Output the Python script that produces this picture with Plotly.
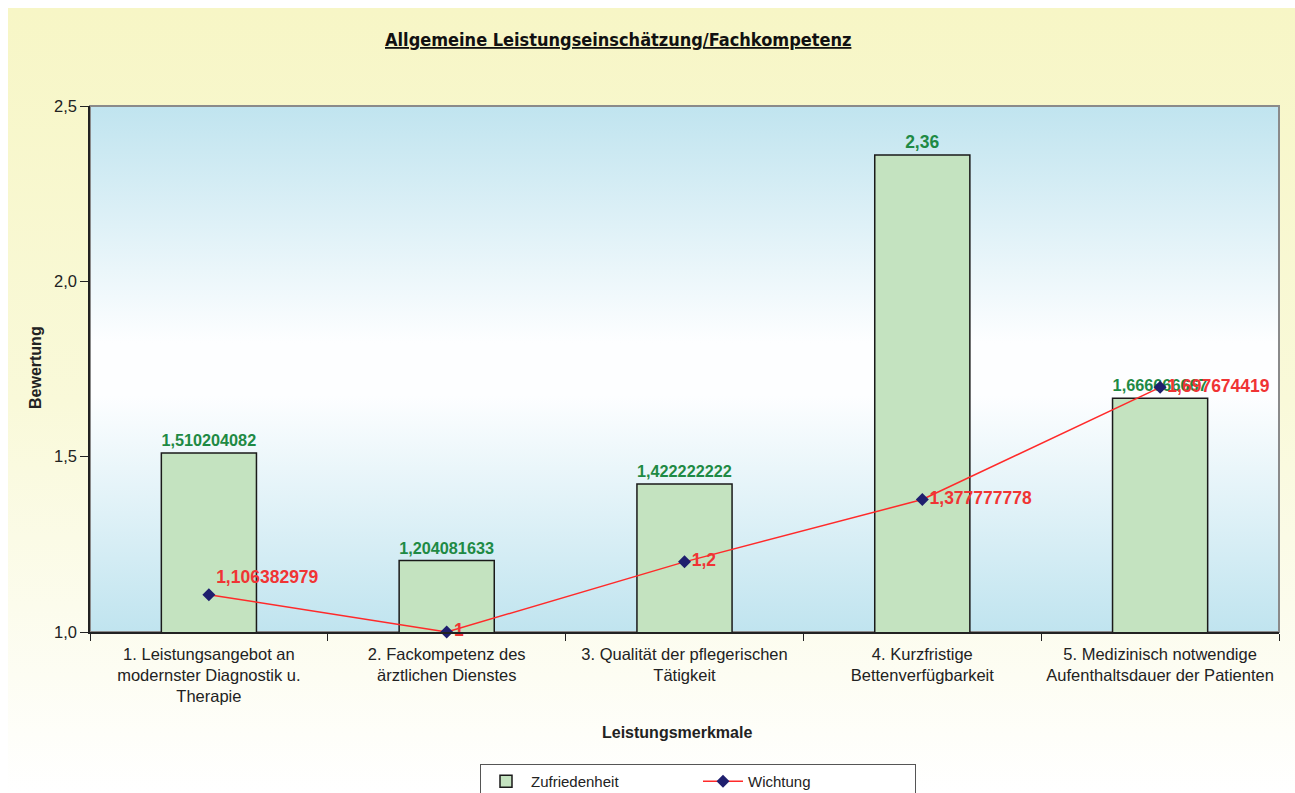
import base64
import plotly.graph_objects as go

categories = [
    "1. Leistungsangebot an<br>modernster Diagnostik u.<br>Therapie",
    "2. Fackompetenz des<br>ärztlichen Dienstes",
    "3. Qualität der pflegerischen<br>Tätigkeit",
    "4. Kurzfristige<br>Bettenverfügbarkeit",
    "5. Medizinisch notwendige<br>Aufenthaltsdauer der Patienten",
]
zufriedenheit = [1.510204082, 1.204081633, 1.422222222, 2.36, 1.666666667]
wichtung = [1.106382979, 1, 1.2, 1.377777778, 1.697674419]
y_ticks = [1.0, 1.5, 2.0, 2.5]


def de(v):
    return f"{v:.10g}".replace(".", ",")


def grad_uri(stops):
    st = "".join(f'<stop offset="{o}" stop-color="{c}"/>' for o, c in stops)
    svg = ('<svg xmlns="http://www.w3.org/2000/svg" width="100" height="100" '
           'viewBox="0 0 100 100" preserveAspectRatio="none"><defs>'
           '<linearGradient id="g" x1="0" y1="0" x2="0" y2="1">' + st +
           '</linearGradient></defs><rect width="100" height="100" fill="url(#g)"/></svg>')
    return "data:image/svg+xml;base64," + base64.b64encode(svg.encode()).decode()


W, H = 1295, 793
L, R, T, B = 90, 16, 106, 161
pw, ph = W - L - R, H - T - B


def px(x):
    return (x - L) / pw


def py(y):
    return (H - B - y) / ph


SANS = "Liberation Sans, Arial, sans-serif"

fig = go.Figure()
fig.add_trace(go.Bar(
    x=categories, y=zufriedenheit, name="Zufriedenheit",
    marker=dict(color="#c4e3c0", line=dict(color="#1a1a1a", width=1.5)),
    text=[de(v) for v in zufriedenheit], textposition="outside",
    textfont=dict(family=SANS, size=17.5, color="#1e8a44", weight="bold"),
    cliponaxis=False,
))
fig.add_trace(go.Scatter(
    x=categories, y=wichtung, name="Wichtung", mode="lines+markers+text",
    line=dict(color="#ff2a2a", width=1.5),
    marker=dict(symbol="diamond", size=10, color="#1f1f6e"),
    text=[de(v) for v in wichtung],
    textposition=["top right", "middle right", "middle right", "middle right", "middle right"],
    textfont=dict(family=SANS, size=17.5, color="#f03434", weight="bold"),
    cliponaxis=False,
))

fig.update_layout(
    width=W, height=H,
    margin=dict(l=L, r=R, t=T, b=B, autoexpand=False),
    paper_bgcolor="white", plot_bgcolor="rgba(0,0,0,0)",
    separators=",.",
    bargap=0.6,
    font=dict(family=SANS, size=16, color="#222"),
    showlegend=True,
    legend=dict(orientation="h", x=px(698), xanchor="center", y=py(764), yanchor="top",
                bordercolor="#555", borderwidth=1, bgcolor="white",
                font=dict(family=SANS, size=15, color="#222"),
                entrywidth=162, itemwidth=40),
    xaxis=dict(showline=True, linecolor="#222", linewidth=1.5, ticks="outside",
               tickson="boundaries", ticklen=7, tickcolor="#222", showgrid=False,
               automargin=False, ticklabelstandoff=6,
               tickfont=dict(family=SANS, size=16.5, color="#222")),
    yaxis=dict(range=[1, 2.5], tickvals=y_ticks, tickformat=".1f", showline=True,
               linecolor="#222", linewidth=1.5, ticks="outside", ticklen=8,
               tickcolor="#222", showgrid=False, zeroline=False, automargin=False,
               tickfont=dict(family=SANS, size=16.5, color="#222")),
    images=[
        dict(source=grad_uri([(0, "#f7f6c6"), (0.5, "#f9f9d9"), (0.85, "#fdfdf3"), (1, "#ffffff")]),
             xref="paper", yref="paper", x=px(8), y=py(8), sizex=px(W) - px(8),
             sizey=py(8) - py(H), sizing="stretch", layer="below", xanchor="left", yanchor="top"),
        dict(source=grad_uri([(0, "#c0e4ef"), (0.45, "#fdfeff"), (0.55, "#fdfeff"), (1, "#c0e4ef")]),
             xref="paper", yref="paper", x=0, y=1, sizex=1, sizey=1,
             sizing="stretch", layer="below", xanchor="left", yanchor="top"),
    ],
    shapes=[dict(type="rect", xref="paper", yref="paper", x0=0, y0=0, x1=1, y1=1,
                 line=dict(color="#8a8a8a", width=2), layer="below")],
    annotations=[
        dict(text="Allgemeine Leistungseinschätzung/Fachkompetenz",
             xref="paper", yref="paper", x=px(618), y=py(40), xanchor="center", yanchor="middle",
             showarrow=False,
             font=dict(family="DejaVu Sans Condensed, Liberation Sans Narrow, Roboto, sans-serif",
                       size=18, color="#111", weight=600, lineposition="under")),
        dict(text="<b>Bewertung</b>", xref="paper", yref="paper", x=px(35), y=py(368),
             xanchor="center", yanchor="middle",
             textangle=-90, showarrow=False, font=dict(family=SANS, size=16, color="#222")),
        dict(text="<b>Leistungsmerkmale</b>", xref="paper", yref="paper", x=px(677), y=py(732),
             xanchor="center", yanchor="middle",
             showarrow=False, font=dict(family=SANS, size=16, color="#222")),
    ],
)

fig.write_html("out.html")
